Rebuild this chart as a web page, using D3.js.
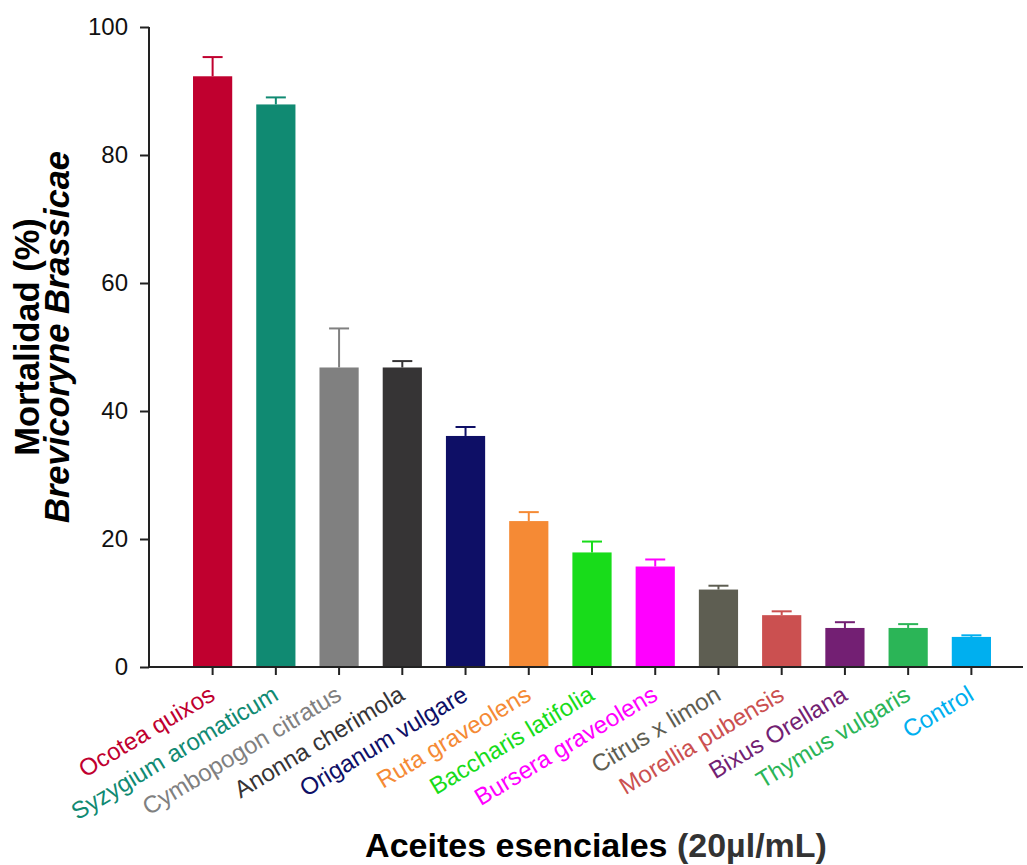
<!DOCTYPE html>
<html>
<head>
<meta charset="utf-8">
<script src="https://cdn.jsdelivr.net/npm/d3@7"></script>
<style>
  body { margin: 0; background: #fff; }
  text { font-family: "Liberation Sans", Arial, sans-serif; }
</style>
</head>
<body>
<div id="chart"></div>
<script>
// Mortality of Brevicoryne brassicae per essential oil
const categories = [ 'Ocotea quixos', 'Syzygium aromaticum', 'Cymbopogon citratus', 'Anonna cherimola',
  'Origanum vulgare', 'Ruta graveolens', 'Baccharis latifolia', 'Bursera graveolens', 'Citrus x limon',
  'Morellia pubensis', 'Bixus Orellana', 'Thymus vulgaris', 'Control' ];
const means = [ 92.3, 87.9, 46.8, 46.8, 36.1, 22.8, 17.9, 15.7, 12.1, 8.1, 6.1, 6.1, 4.7 ];
const errors = [ 3.0, 1.1, 6.1, 1.0, 1.4, 1.4, 1.7, 1.1, 0.6, 0.6, 0.9, 0.6, 0.25 ];
const colors = [ '#c0002f', '#108a72', '#808080', '#363435', '#0e0f66', '#f58a35', '#18dc1a',
  '#ff00ff', '#5e5e52', '#cb5050', '#731f73', '#2bb557', '#00afef' ];
const yTicks = [ 0, 20, 40, 60, 80, 100 ];

const width = 1027, height = 865;

const svg = d3.select( 'div#chart' )
  .append( 'svg' )
    .attr( 'width', width )
    .attr( 'height', height );

const x = d3.scaleBand()
  .domain( categories )
  .range( [ 181, 1003 ] )
  .paddingInner( 0.38 )
  .paddingOuter( 0.19 );

const y = d3.scaleLinear()
  .domain( [ 0, 100 ] )
  .range( [ 667, 27 ] );

// bars
svg.append( 'g' )
  .selectAll( 'rect' )
  .data( categories )
  .enter().append( 'rect' )
    .attr( 'x', d => x( d ) )
    .attr( 'y', ( d, i ) => y( means[i] ) )
    .attr( 'width', x.bandwidth() )
    .attr( 'height', ( d, i ) => y( 0 ) - y( means[i] ) )
    .attr( 'fill', ( d, i ) => colors[i] );

// error bars (upper only)
const err = svg.append( 'g' )
  .selectAll( 'g' )
  .data( categories )
  .enter().append( 'g' )
    .attr( 'stroke', ( d, i ) => colors[i] )
    .attr( 'stroke-width', 2 );
err.append( 'line' )
  .attr( 'x1', d => x( d ) + x.bandwidth() / 2 )
  .attr( 'x2', d => x( d ) + x.bandwidth() / 2 )
  .attr( 'y1', ( d, i ) => y( means[i] ) )
  .attr( 'y2', ( d, i ) => y( means[i] + errors[i] ) );
err.append( 'line' )
  .attr( 'x1', d => x( d ) + x.bandwidth() / 2 - 10 )
  .attr( 'x2', d => x( d ) + x.bandwidth() / 2 + 10 )
  .attr( 'y1', ( d, i ) => y( means[i] + errors[i] ) )
  .attr( 'y2', ( d, i ) => y( means[i] + errors[i] ) );

// y axis
const yAxis = svg.append( 'g' )
  .attr( 'transform', 'translate(149,0)' )
  .call( d3.axisLeft( y ).tickValues( yTicks ).tickSize( 9 ).tickPadding( 12 ) );
yAxis.select( '.domain' ).attr( 'stroke', '#222' ).attr( 'stroke-width', 2 ).attr( 'd', 'M0,' + y( 100 ) + 'V' + y( 0 ) );
yAxis.selectAll( '.tick line' ).attr( 'stroke', '#222' ).attr( 'stroke-width', 2 );
yAxis.selectAll( '.tick text' )
  .attr( 'font-size', 24 )
  .attr( 'fill', '#111' )
  .style( 'font-family', '"Liberation Sans", Arial, sans-serif' );

// x axis
const xAxis = svg.append( 'g' )
  .attr( 'transform', 'translate(0,' + y( 0 ) + ')' )
  .call( d3.axisBottom( x ).tickSize( 8 ).tickFormat( '' ) );
xAxis.select( '.domain' ).attr( 'stroke', '#222' ).attr( 'stroke-width', 2 ).attr( 'd', 'M148,0H1023' );
xAxis.selectAll( '.tick line' ).attr( 'stroke', '#222' ).attr( 'stroke-width', 2 );

// rotated category labels
svg.append( 'g' )
  .selectAll( 'text' )
  .data( categories )
  .enter().append( 'text' )
    .attr( 'transform', d => 'translate(' + ( x( d ) + x.bandwidth() / 2 + 4 ) + ',' + 699 + ') rotate(-31)' )
    .attr( 'text-anchor', 'end' )
    .attr( 'font-size', 24 )
    .attr( 'fill', ( d, i ) => colors[i] )
    .text( d => d );

// axis titles
const yTitle = svg.append( 'g' )
  .attr( 'transform', 'translate(0,337) rotate(-90)' )
  .attr( 'text-anchor', 'middle' )
  .attr( 'font-size', 34.5 )
  .attr( 'font-weight', 'bold' )
  .attr( 'fill', '#000' );
yTitle.append( 'text' ).attr( 'y', 39 ).text( 'Mortalidad (%)' );
yTitle.append( 'text' ).attr( 'y', 69 ).attr( 'font-style', 'italic' ).text( 'Brevicoryne Brassicae' );

const xTitle = svg.append( 'text' )
  .attr( 'x', 596 )
  .attr( 'y', 857 )
  .attr( 'text-anchor', 'middle' )
  .attr( 'font-size', 34 )
  .attr( 'font-weight', 'bold' )
  .attr( 'fill', '#000' );
xTitle.append( 'tspan' ).text( 'Aceites esenciales ' );
xTitle.append( 'tspan' ).attr( 'fill', '#333' ).text( '(20µl/mL)' );
</script>
</body>
</html>
